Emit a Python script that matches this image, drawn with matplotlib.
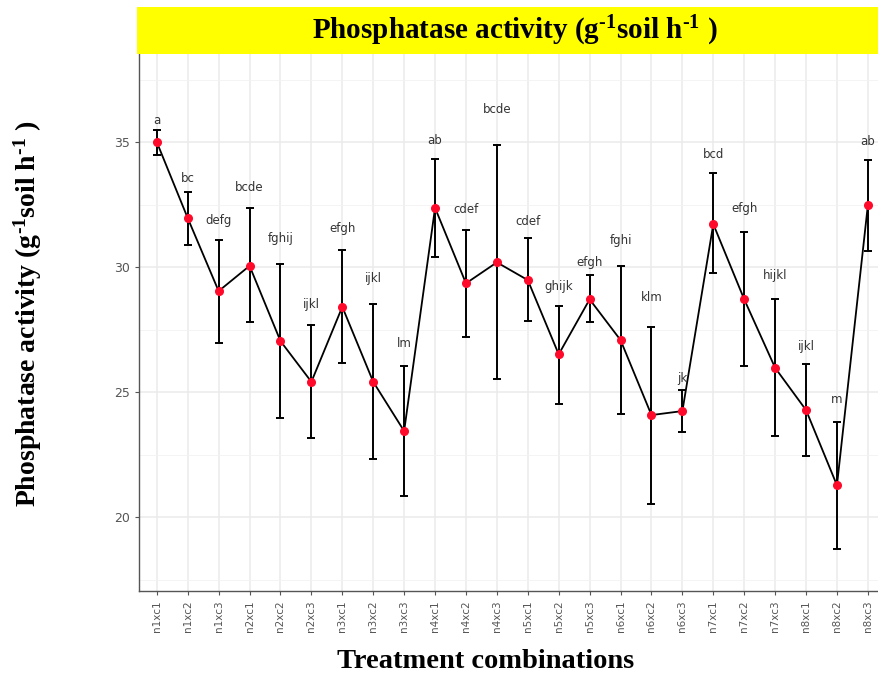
import matplotlib
matplotlib.use("Agg")
import matplotlib.pyplot as plt
from matplotlib.patches import Rectangle
from matplotlib.ticker import MultipleLocator

# treatment combinations
treatments = ["n1xc1", "n1xc2", "n1xc3", "n2xc1", "n2xc2", "n2xc3",
              "n3xc1", "n3xc2", "n3xc3", "n4xc1", "n4xc2", "n4xc3",
              "n5xc1", "n5xc2", "n5xc3", "n6xc1", "n6xc2", "n6xc3",
              "n7xc1", "n7xc2", "n7xc3", "n8xc1", "n8xc2", "n8xc3"]

# mean values
means = [35.0, 31.96, 29.04, 30.05, 27.04, 25.41,
         28.41, 25.41, 23.44, 32.37, 29.35, 30.19,
         29.48, 26.51, 28.71, 27.08, 24.08, 24.24,
         31.72, 28.71, 25.97, 24.28, 21.27, 32.48]

# error bar ends
err_high = [35.5, 33.0, 31.1, 32.36, 30.13, 27.68,
            30.68, 28.52, 26.04, 34.31, 31.47, 34.88,
            31.15, 28.44, 29.68, 30.05, 27.61, 25.07,
            33.75, 31.39, 28.71, 26.11, 23.81, 34.28]
err_low = [34.5, 30.9, 26.97, 27.8, 23.97, 23.16,
           26.16, 22.32, 20.85, 30.41, 27.21, 25.52,
           27.85, 24.52, 27.79, 24.12, 20.52, 23.41,
           29.75, 26.05, 23.24, 22.45, 18.72, 30.64]

# significance letters and their heights
letters = ["a", "bc", "defg", "bcde", "fghij", "ijkl",
           "efgh", "ijkl", "lm", "ab", "cdef", "bcde",
           "cdef", "ghijk", "efgh", "fghi", "klm", "jk",
           "bcd", "efgh", "hijkl", "ijkl", "m", "ab"]
letter_y = [35.88, 33.56, 31.88, 33.17, 31.16, 28.52,
            31.56, 29.56, 26.96, 35.05, 32.32, 36.32,
            31.84, 29.21, 30.19, 31.05, 28.79, 25.55,
            34.52, 32.35, 29.68, 26.81, 24.71, 35.01]

plt.rcParams['mathtext.fontset'] = 'custom'
plt.rcParams['mathtext.rm'] = 'Liberation Serif:bold'
plt.rcParams['mathtext.it'] = 'Liberation Serif:bold'
plt.rcParams['mathtext.bf'] = 'Liberation Serif:bold'

fig = plt.figure(figsize=(8.79, 6.77), dpi=100)
ax = fig.add_axes([0.158, 0.127, 0.842, 0.793])

x = list(range(1, len(treatments) + 1))
yerr = [[m - lo for m, lo in zip(means, err_low)],
        [hi - m for m, hi in zip(means, err_high)]]

ax.plot(x, means, color="black", lw=1.3, zorder=3)
ax.errorbar(x, means, yerr=yerr, fmt="none", ecolor="black", elinewidth=1.4,
            capsize=3, capthick=1.4, zorder=3)
ax.plot(x, means, "o", color="#ff0a2a", markersize=5.5, zorder=4)

for xi, lab, ly in zip(x, letters, letter_y):
    ax.text(xi, ly, lab, ha="center", va="center", fontsize=8.5, color="#333333")

ax.set_xlim(0.42, 24.36)
ax.set_ylim(17.04, 38.52)
ax.set_xticks(x)
ax.set_xticklabels(treatments, rotation=90, fontsize=7.5, color="#555555")
ax.yaxis.set_major_locator(MultipleLocator(5))
ax.yaxis.set_minor_locator(MultipleLocator(2.5))
ax.tick_params(axis="y", labelsize=9, labelcolor="#555555", color="#555555", length=3)
ax.tick_params(axis="y", which="minor", length=0)
ax.tick_params(axis="x", color="#555555", length=3)

ax.grid(True, which="major", color="#ebebeb", lw=1.1)
ax.grid(True, which="minor", axis="y", color="#f2f2f2", lw=0.6)
ax.set_axisbelow(True)
for s in ["top", "right"]:
    ax.spines[s].set_visible(False)
for s in ["left", "bottom"]:
    ax.spines[s].set_color("#555555")
    ax.spines[s].set_linewidth(1.0)

# yellow title band
fig.patches.append(Rectangle((137 / 879, 1 - 54 / 677), 1 - 137 / 879, 47 / 677,
                             transform=fig.transFigure, facecolor="#ffff00",
                             edgecolor="none", zorder=0))
unit_label = r"Phosphatase activity (g$^{\text{-}1}$soil h$^{\text{-}1}$ )"
fig.text(0.586, 1 - 31 / 677, unit_label,
         ha="center", va="center", fontsize=21, fontweight="bold",
         family="Liberation Serif")

fig.text(0.032, 1 - 314 / 677, unit_label,
         ha="center", va="center", rotation=90, fontsize=20, fontweight="bold",
         family="Liberation Serif")
fig.text(0.553, 1 - 662 / 677, "Treatment combinations",
         ha="center", va="center", fontsize=20.5, fontweight="bold",
         family="Liberation Serif")

fig.savefig("out.png", dpi=100)
